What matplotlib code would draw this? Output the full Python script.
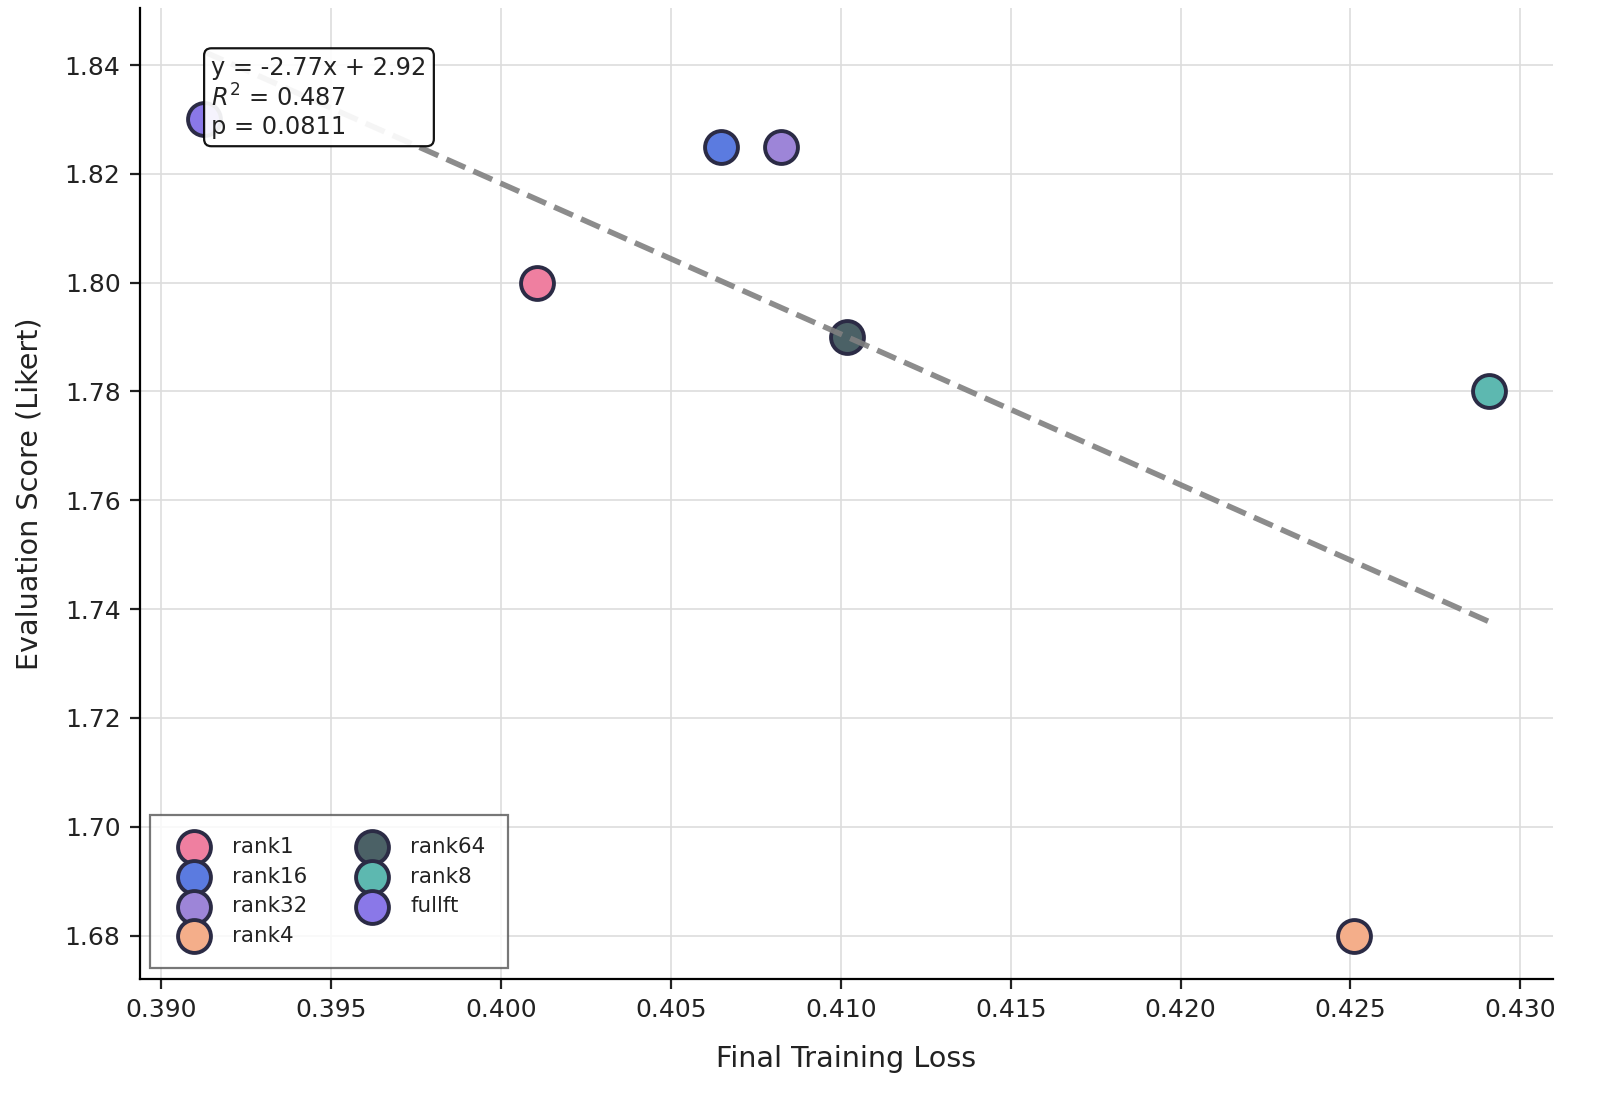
import matplotlib
matplotlib.use("Agg")
import matplotlib.pyplot as plt
import numpy as np

# run names, final training loss, evaluation score
runs = ["rank1", "rank16", "rank32", "rank4", "rank64", "rank8", "fullft"]
final_loss = [0.40105, 0.40646, 0.40825, 0.42510, 0.41017, 0.42907, 0.39126]
eval_score = [1.80, 1.825, 1.825, 1.68, 1.79, 1.78, 1.83]
colors = ["#EF7FA0", "#5B7BE0", "#9D85D8", "#F4AE8A", "#4B6166", "#5DB8B0", "#8A78E8"]

plt.rcParams["text.color"] = "#222222"
plt.rcParams["axes.labelcolor"] = "#222222"
plt.rcParams["xtick.color"] = "#222222"
plt.rcParams["ytick.color"] = "#222222"

fig, ax = plt.subplots(figsize=(8, 5.52), dpi=200)
fig.subplots_adjust(left=0.0875, right=0.9706, top=0.9928, bottom=0.1132)

for name, x, y, c in zip(runs, final_loss, eval_score, colors):
    ax.scatter(x, y, s=140, color=c, edgecolor="#2b2b45", linewidth=1.4, label=name, zorder=1)

# linear fit
x = np.array(final_loss)
y = np.array(eval_score)
slope, intercept = np.polyfit(x, y, 1)
xs = np.linspace(x.min(), x.max(), 50)
ax.plot(xs, slope * xs + intercept, "--", color="gray", alpha=0.9, linewidth=2, zorder=2)

txt = "y = -2.77x + 2.92\n$R^2$ = 0.487\np = 0.0811"
ax.text(0.0505, 0.951, txt, transform=ax.transAxes, fontsize=8.7, va="top", ha="left",
        bbox=dict(boxstyle="round,pad=0.3", facecolor="white", edgecolor="black",
                  linewidth=0.8, alpha=0.92),
        zorder=5)

ax.set_ylim(1.672, 1.8505)
ax.set_xlabel("Final Training Loss", fontsize=10.3, labelpad=8)
ax.set_ylabel("Evaluation Score (Likert)", fontsize=10.3, labelpad=7.5)
ax.tick_params(labelsize=9)
ax.grid(True, color="#dddddd", linewidth=0.6)
ax.set_axisbelow(True)
ax.spines["top"].set_visible(False)
ax.spines["right"].set_visible(False)

leg = ax.legend(ncol=2, loc="lower left", fontsize=7.7, fancybox=False, edgecolor="#555555",
                borderpad=1.05, columnspacing=2.0, handletextpad=0.8, labelspacing=0.45,
                bbox_to_anchor=(0.007, 0.011), borderaxespad=0)
leg.get_frame().set_linewidth(0.8)

plt.savefig("out.png", dpi=200)
